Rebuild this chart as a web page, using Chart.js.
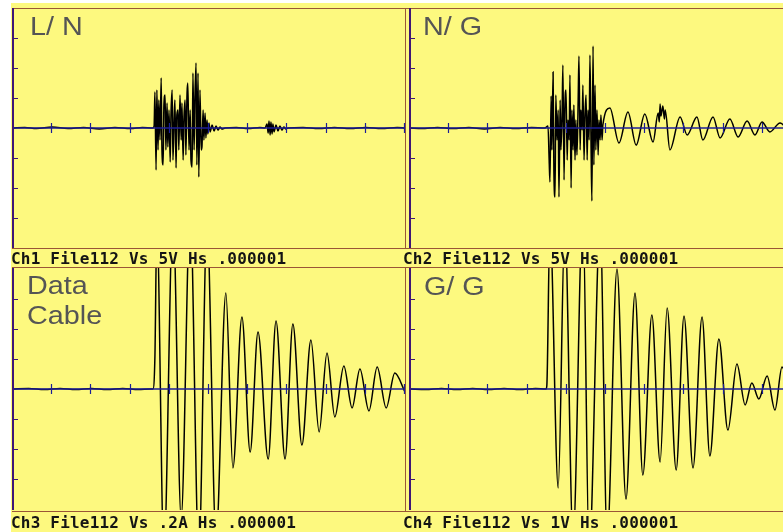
<!DOCTYPE html>
<html><head><meta charset="utf-8">
<script src="https://cdn.jsdelivr.net/npm/chart.js@4"></script>
<style>
html,body{margin:0;padding:0;width:783px;height:532px;overflow:hidden;background:#fff;position:relative;}
#bg{position:absolute;left:11px;top:3px;width:772px;height:529px;background:#FDF97F;}
.ln{position:absolute;background:#9a5636;}
canvas{position:absolute;}
.cap{position:absolute;font-family:"DejaVu Sans Mono",monospace;font-weight:bold;font-size:16px;line-height:16px;color:#141414;white-space:pre;letter-spacing:0.2px;}
.ttl{position:absolute;font-family:"Liberation Sans",Arial,sans-serif;font-size:25px;line-height:25px;color:#555555;white-space:pre;transform:scaleX(1.15);transform-origin:0 0;}
.bl{display:inline-block;width:0;height:0;}
</style></head><body>
<div id="bg"></div>
<script>
// ---- data: time in µs (1 µs / division), amplitude in screen divisions ----
const ch1 = [[0,0],[0.3,0.02],[0.6,-0.02],[1.0,0.03],[1.4,-0.02],[1.8,0.02],[2.2,-0.03],[2.6,0.02],[3.0,-0.02],[3.3,0.02],
 [3.57,0],[3.60,0.07],[3.62,1.2],[3.65,-1.4],[3.67,1.27],[3.70,-0.73],[3.72,0.93],[3.75,-0.4],[3.78,1.67],[3.80,-0.73],
 [3.83,-1.23],[3.85,0.77],[3.88,1.1],[3.90,-0.73],[3.93,0.83],[3.95,-0.63],[3.98,0.6],[4.01,-1.13],[4.03,0.43],[4.06,1.27],
 [4.08,-1.07],[4.11,0.27],[4.13,0.93],[4.16,-1.33],[4.18,0.43],[4.21,0.6],[4.23,-0.73],[4.26,1.1],[4.29,-0.4],[4.31,0.83],
 [4.34,-1.07],[4.36,0.27],[4.39,0.93],[4.41,-0.9],[4.44,1.17],[4.46,1.5],[4.49,-0.73],[4.52,0.6],[4.54,-1.07],[4.57,-1.3],
 [4.59,1.83],[4.62,-0.73],[4.64,0.93],[4.67,2.17],[4.69,-1.23],[4.72,1.83],[4.74,-1.63],[4.77,1.27],[4.80,-0.73],[4.82,-0.63],
 [4.85,0.6],[4.87,-0.4],[4.90,0.5],[4.92,-0.33],[4.95,0.27],[4.97,-0.2],[5.00,0.17],[5.03,-0.13],[5.08,0.1],[5.13,-0.1],
 [5.18,0.07],[5.23,-0.07],[5.28,0.03],[5.33,-0.03],[5.41,0],[5.7,0.02],[6.0,-0.02],[6.3,0.02],
 [6.43,0],[6.48,0.13],[6.51,-0.17],[6.53,0.23],[6.56,-0.23],[6.58,0.2],[6.61,-0.2],[6.63,0.13],[6.66,-0.13],[6.71,0.1],
 [6.76,-0.1],[6.81,0.07],[6.86,-0.07],[6.91,0.03],[6.96,-0.03],[7.02,0],
 [7.4,0.02],[7.8,-0.02],[8.2,0.02],[8.6,-0.02],[9.0,0.02],[9.4,-0.02],[9.8,0.02],[10,0]];

const ch2 = [[0,0],[0.3,-0.02],[0.7,0.02],[1.1,-0.02],[1.5,0.02],[1.9,-0.03],[2.3,0.02],[2.7,-0.02],[3.1,0.02],[3.44,0],
 [3.52,0.07],[3.55,-1.07],[3.57,-1.8],[3.60,1.07],[3.62,-0.73],[3.65,1.87],[3.67,-1.4],[3.70,-2.3],[3.72,1.1],[3.75,-0.4],
 [3.78,0.6],[3.80,-2.3],[3.83,0.93],[3.85,-0.73],[3.88,0.43],[3.90,2.1],[3.93,-1.73],[3.95,0.6],[3.98,1.27],[4.01,-1.07],
 [4.03,0.27],[4.06,-0.4],[4.08,1.77],[4.11,-2.0],[4.13,0.6],[4.16,-0.73],[4.18,0.77],[4.21,-1.07],[4.23,0.27],[4.26,-0.9],
 [4.29,0.93],[4.31,2.4],[4.34,-0.73],[4.36,0.6],[4.39,-0.07],[4.41,1.43],[4.44,-1.07],[4.46,0.27],[4.49,1.1],[4.52,-1.07],
 [4.54,0.6],[4.57,-0.4],[4.59,2.43],[4.62,-0.73],[4.64,-2.43],[4.67,2.73],[4.69,-1.23],[4.72,1.43],[4.74,-0.73],[4.77,0.6],
 [4.80,-0.9],[4.82,0.27],[4.85,-0.4],[4.87,0.43],[4.90,-0.4],[4.92,0.1],
 [5.10,0.67],[5.33,-0.5],[5.56,0.53],[5.77,-0.57],[5.99,0.47],[6.20,-0.47],[6.33,0.5],[6.36,0.2],[6.38,0.8],[6.40,0.4],
 [6.45,0.73],[6.49,0.3],[6.51,0.6],[6.63,-0.73],[6.89,0.37],[7.07,-0.23],[7.32,0.37],[7.47,-0.4],[7.73,0.37],[7.91,-0.33],
 [8.16,0.3],[8.37,-0.3],[8.60,0.23],[8.80,-0.23],[8.98,0.2],[9.18,-0.13],[9.44,0.17],[9.69,-0.07],[10,0.05]];

const ch3 = [[0,0],[0.4,0.02],[0.8,-0.02],[1.2,0.02],[1.6,-0.02],[2.0,0.02],[2.4,-0.02],[2.8,0.02],[3.2,-0.02],[3.5,0],
 [3.57,0],[3.62,1.07],[3.67,5.5],[3.85,-5.5],[4.08,5.8],[4.29,-4.3],[4.52,6.0],[4.74,-5.5],[4.95,5.5],[5.18,-5.0],
 [5.43,3.2],[5.61,-2.63],[5.84,2.4],[6.05,-2.1],[6.25,1.9],[6.51,-2.33],[6.71,2.27],[6.94,-2.33],[7.14,2.17],[7.37,-1.87],
 [7.60,1.63],[7.81,-1.43],[8.01,1.2],[8.21,-0.93],[8.44,0.77],[8.65,-0.63],[8.85,0.67],[9.08,-0.73],[9.29,0.73],[9.52,-0.63],
 [9.74,0.53],[10,-0.1]];

const ch4 = [[0,0],[0.4,-0.02],[0.8,0.02],[1.2,-0.02],[1.6,0.02],[2.0,-0.02],[2.4,0.02],[2.8,-0.02],[3.2,0.02],[3.47,0],
 [3.49,0.1],[3.57,5.5],[3.78,-3.3],[3.95,5.5],[4.16,-5.0],[4.41,6.0],[4.57,-5.5],[4.85,5.5],[5.03,-5.0],[5.28,4.0],
 [5.51,-3.67],[5.74,3.2],[5.94,-2.87],[6.17,2.47],[6.38,-2.43],[6.56,2.7],[6.79,-2.7],[6.99,2.43],[7.22,-2.63],[7.45,2.4],
 [7.65,-2.23],[7.88,1.67],[8.11,-1.37],[8.34,0.83],[8.55,-0.53],[8.72,0.2],[8.90,-0.33],[9.11,0.43],[9.31,-0.7],[9.49,0.73],
 [9.69,0],[10,-0.2]];

const xTicks = [1,2,3,4,5,6,7,8,9,10];
const yTicks = [-3,-2,-1,1,2,3];
const channelLabels = ["Ch1 File112 Vs 5V Hs .000001","Ch2 File112 Vs 5V Hs .000001","Ch3 File112 Vs .2A Hs .000001","Ch4 File112 Vs 1V Hs .000001"];
const panelTitles = [["L/ N"],["N/ G"],["Data","Cable"],["G/ G"]];

// ---- layout ----
const BLUE = '#1c1e96', PURPLE = '#3e1676';
const panels = [
  {data:ch1, left:13,  top:8,   w:392, h:240, yMax:4,     cap:[11,264],  ttl:[30,35]},
  {data:ch2, left:410, top:8,   w:392, h:240, yMax:4,     cap:[403,264], ttl:[423,35]},
  {data:ch3, left:13,  top:268, w:392, h:242, yMax:4.033, cap:[11,528],  ttl:[27,294]},
  {data:ch4, left:410, top:268, w:392, h:242, yMax:4.033, cap:[403,528], ttl:[424,295]}
];

function line(x,y,w,h){const d=document.createElement('div');d.className='ln';
  Object.assign(d.style,{left:x+'px',top:y+'px',width:w+'px',height:h+'px'});document.body.appendChild(d);}
[8,248,267,511].forEach(y=>line(12,y,771,1));
line(405,8,1,241); line(405,267,1,245);

const scopePlugin = {
  id:'scope',
  afterDatasetsDraw(chart){
    const {ctx, chartArea:a, scales:{x,y}} = chart;
    ctx.save();
    const y0 = Math.round(y.getPixelForValue(0));
    ctx.strokeStyle = BLUE; ctx.lineWidth = 1.6;
    ctx.beginPath();
    ctx.moveTo(a.left, y0); ctx.lineTo(a.right, y0);
    ctx.stroke();
    ctx.lineWidth = 1.2;
    ctx.beginPath();
    xTicks.forEach(t=>{const px=Math.round(x.getPixelForValue(t))-0.5; ctx.moveTo(px,y0-5); ctx.lineTo(px,y0+5);});
    ctx.stroke();
    ctx.strokeStyle = PURPLE; ctx.lineWidth = 1;
    ctx.beginPath();
    yTicks.forEach(v=>{const py=Math.round(y.getPixelForValue(v))+0.5; ctx.moveTo(a.left,py); ctx.lineTo(a.left+5,py);});
    ctx.stroke();
    ctx.fillStyle = PURPLE;
    ctx.fillRect(a.left-1, a.top, 2, a.bottom-a.top);
    ctx.restore();
  }
};

const PAD = 4;
panels.forEach((p,i)=>{
  const c = document.createElement('canvas');
  c.width = p.w + 2*PAD; c.height = p.h + 2*PAD;
  c.style.left = (p.left-PAD)+'px'; c.style.top = (p.top-PAD)+'px';
  document.body.appendChild(c);
  new Chart(c.getContext('2d'), {
    type:'line',
    data:{datasets:[{data:p.data.map(d=>({x:d[0],y:d[1]})), borderColor:'#000', borderWidth:1.5,
      pointRadius:0, fill:false, cubicInterpolationMode:'monotone', clip:0}]},
    options:{responsive:false, animation:false, events:[],
      layout:{padding:PAD},
      plugins:{legend:{display:false}, tooltip:{enabled:false}, title:{display:false}},
      scales:{x:{type:'linear',min:0,max:10,display:false}, y:{min:-p.yMax,max:p.yMax,display:false}}},
    plugins:[scopePlugin]
  });
});

function place(cls, text, x, base){
  const el=document.createElement('div'); el.className=cls; el.textContent=text;
  const m=document.createElement('span'); m.className='bl'; el.appendChild(m);
  el.style.left=x+'px'; el.style.top='0px'; document.body.appendChild(el);
  el.style.top=(base-m.offsetTop)+'px';
}
panels.forEach((p,i)=>{
  place('cap', channelLabels[i], p.cap[0], p.cap[1]);
  panelTitles[i].forEach((t,k)=>place('ttl', t, p.ttl[0], p.ttl[1]+k*30));
});
</script>
</body></html>
